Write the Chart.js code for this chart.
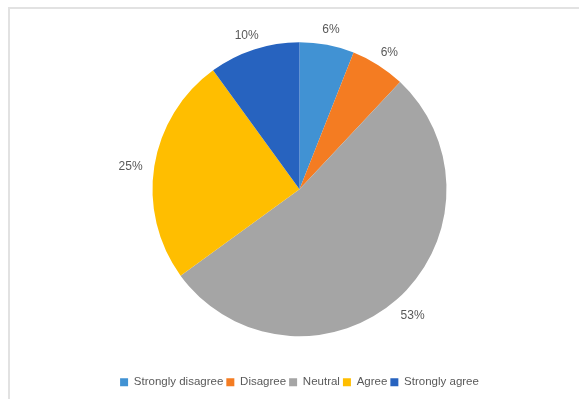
<!DOCTYPE html>
<html>
<head>
<meta charset="utf-8">
<script src="https://cdn.jsdelivr.net/npm/chart.js@4"></script>
<style>
  html, body { margin: 0; padding: 0; background: #fff; }
  #wrap { width: 579px; height: 399px; position: relative; }
</style>
</head>
<body>
<div id="wrap"><canvas id="pieChart"></canvas></div>
<script>
const categories = ['Strongly disagree', 'Disagree', 'Neutral', 'Agree', 'Strongly agree'];
const shares = [6, 6, 53, 25, 10];
const sliceColors = ['#4192D3', '#F47C22', '#A5A5A5', '#FFBE00', '#2763BF'];

const textColor = '#595959';
const fontFamily = "'Liberation Sans', Arial, Helvetica, sans-serif";

// light frame round the plot, like the original screenshot
const framePlugin = {
  id: 'frame',
  beforeDraw(chart) {
    const c = chart.ctx;
    c.save();
    c.strokeStyle = '#e2e2e2';
    c.lineWidth = 2;
    c.beginPath();
    c.moveTo(9, chart.height);
    c.lineTo(9, 8);
    c.lineTo(chart.width, 8);
    c.stroke();
    c.restore();
  }
};

// percent labels outside each slice
const outsideLabels = {
  id: 'outsideLabels',
  afterDatasetsDraw(chart) {
    const c = chart.ctx;
    const meta = chart.getDatasetMeta(0);
    const data = chart.data.datasets[0].data;
    const total = data.reduce((a, b) => a + b, 0);
    c.save();
    c.font = '12px ' + fontFamily;
    c.fillStyle = textColor;
    c.textAlign = 'center';
    c.textBaseline = 'middle';
    meta.data.forEach((arc, i) => {
      const mid = (arc.startAngle + arc.endAngle) / 2;
      const ux = Math.cos(mid), uy = Math.sin(mid);
      const txt = Math.round(data[i] / total * 100) + '%';
      const w = c.measureText(txt).width, h = 12;
      const d = arc.outerRadius + 12;
      const x = arc.x + d * ux + ux * w / 2;
      const y = arc.y + d * uy + uy * h / 2 + 3;
      c.fillText(txt, x, y);
    });
    c.restore();
  }
};

new Chart(document.getElementById('pieChart'), {
  type: 'pie',
  data: {
    labels: categories,
    datasets: [{
      data: shares,
      backgroundColor: sliceColors,
      borderWidth: 0,
      radius: 147
    }]
  },
  options: {
    responsive: true,
    maintainAspectRatio: false,
    animation: false,
    layout: {
      padding: { top: 5, left: 20, right: 0, bottom: 1 }
    },
    plugins: {
      legend: {
        position: 'bottom',
        labels: {
          boxWidth: 8,
          boxHeight: 8,
          padding: 3,
          color: textColor,
          font: { family: fontFamily, size: 11.5 }
        }
      },
      tooltip: { enabled: false }
    }
  },
  plugins: [framePlugin, outsideLabels]
});
</script>
</body>
</html>
